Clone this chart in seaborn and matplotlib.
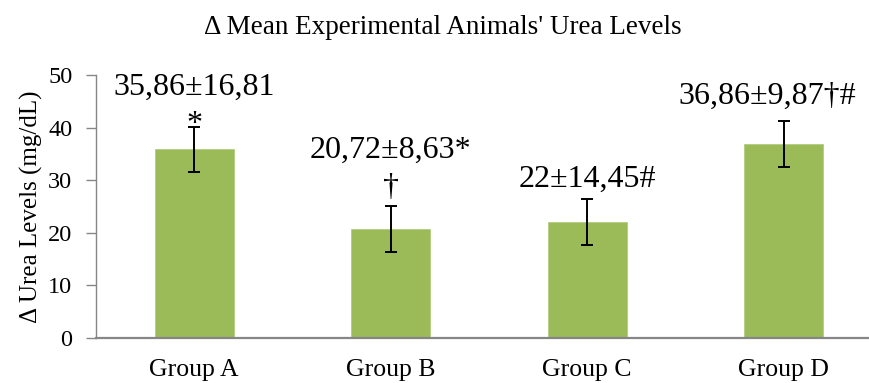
import matplotlib
matplotlib.use("Agg")
import matplotlib.pyplot as plt
import seaborn as sns
import pandas as pd

# Values shown on the chart
groups = ["Group A", "Group B", "Group C", "Group D"]
means = [35.86, 20.72, 22.00, 36.86]
errors = [4.34, 4.34, 4.34, 4.34]
labels = ["35,86±16,81", "20,72±8,63*", "22±14,45#", "36,86±9,87†#"]
marks = ["*", "†", "", ""]
yticks = [0, 10, 20, 30, 40, 50]

# Placement of each value label: lift above its error cap (data units)
# and sideways shift (points)
label_lift = [6.0, 9.1, 2.4, 3.4]
label_shift = [0, 0, 0, -12]

sns.set_theme(style="white")
plt.rcParams["font.family"] = ["Liberation Serif", "DejaVu Serif"]

df = pd.DataFrame({"group": groups, "mean": means})

fig = plt.figure(figsize=(8.69, 3.83), dpi=100)
ax = fig.add_axes([96 / 869, 45 / 383, 1 - 96 / 869, 263 / 383])

sns.barplot(data=df, x="group", y="mean", color="#9BBB59", saturation=1,
            width=0.40, errorbar=None, ax=ax, edgecolor="#B3CC80", linewidth=0.6)

xs = list(range(len(groups)))
ax.errorbar(xs, means, yerr=errors, fmt="none", ecolor="black",
            elinewidth=1.4, capsize=4.3, capthick=1.4, zorder=5)

for x, m, e, lab, mk, lift, dx in zip(xs, means, errors, labels, marks,
                                      label_lift, label_shift):
    base = m + e + lift
    ax.annotate(lab, xy=(x, base), xytext=(dx, 0), textcoords="offset points",
                ha="center", va="baseline", fontsize=23, color="black")
    if mk:
        ax.annotate(mk, xy=(x, base), xytext=(dx, -26.3), textcoords="offset points",
                    ha="center", va="baseline", fontsize=23, color="black")

ax.set_xlim(-0.5, 3.434)
ax.set_ylim(0, 50)
ax.set_yticks(yticks)
ax.set_xlabel("")
ax.set_ylabel("Δ Urea Levels (mg/dL)", fontsize=18, color="black", labelpad=4)

for s in ["top", "right"]:
    ax.spines[s].set_visible(False)
ax.spines["left"].set_color("#868686")
ax.spines["left"].set_linewidth(1.0)
ax.spines["bottom"].set_color("#868686")
ax.spines["bottom"].set_linewidth(1.6)

ax.tick_params(axis="y", direction="out", length=7, width=1.0, color="#868686",
               labelsize=17.5, labelcolor="black", pad=10, left=True)
ax.tick_params(axis="x", length=0, labelsize=18.5, labelcolor="black", pad=15)

fig.text(443 / 869, 1 - 28 / 383, "Δ Mean Experimental Animals' Urea Levels",
         ha="center", va="center", fontsize=19.5, color="black")

fig.savefig("out.png", dpi=100)
